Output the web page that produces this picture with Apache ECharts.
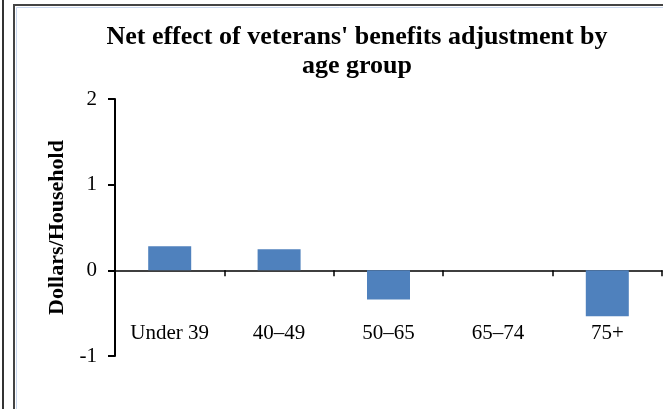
<!DOCTYPE html>
<html>
<head>
<meta charset="utf-8">
<script src="https://cdn.jsdelivr.net/npm/echarts@6/dist/echarts.min.js"></script>
<style>
  html, body { margin: 0; padding: 0; background: #fff; }
  #chart { width: 663px; height: 409px; }
</style>
</head>
<body>
<div id="chart"></div>
<script>
// Net effect per household, by age group
const ageGroups = ['Under 39', '40\u201349', '50\u201365', '65\u201374', '75+'];
const netEffect = [0.28, 0.245, -0.34, 0, -0.535];
const yTicks = [-1, 0, 1, 2];

const serif = '"Liberation Serif", "Times New Roman", serif';
const chart = echarts.init(document.getElementById('chart'));

chart.setOption({
  animation: false,
  backgroundColor: '#ffffff',
  title: {
    text: "Net effect of veterans' benefits adjustment by\nage group",
    left: 352,
    textAlign: 'center',
    top: 18,
    textStyle: {
      fontFamily: serif,
      fontWeight: 'bold',
      fontSize: 26,
      lineHeight: 29,
      color: '#000'
    }
  },
  grid: { left: 115, right: 1, top: 99, bottom: 53, outerBoundsMode: 'none', containLabel: false },
  xAxis: {
    type: 'category',
    data: ageGroups,
    axisLine: { onZero: true, lineStyle: { color: '#000', width: 1.5 } },
    axisTick: { show: true, length: 6, inside: false, lineStyle: { color: '#000', width: 1.5 } },
    // category names sit in the lower band, between the zero line and the -1 tick
    axisLabel: { margin: -33, fontFamily: serif, fontSize: 21, color: '#000' },
    splitLine: { show: false }
  },
  yAxis: {
    type: 'value',
    min: yTicks[0],
    max: yTicks[yTicks.length - 1],
    interval: 1,
    name: 'Dollars/Household',
    nameLocation: 'middle',
    nameGap: 45,
    nameTextStyle: { fontFamily: serif, fontWeight: 'bold', fontSize: 22, color: '#000' },
    axisLine: { show: true, lineStyle: { color: '#000', width: 2 } },
    axisTick: { show: true, length: 7, lineStyle: { color: '#000', width: 2 } },
    axisLabel: { margin: 18, fontFamily: serif, fontSize: 21, color: '#000' },
    splitLine: { show: false }
  },
  series: [{
    type: 'bar',
    data: netEffect,
    barWidth: 43,
    itemStyle: { color: '#4f81bd' }
  }],
  graphic: [
    { type: 'line', shape: { x1: 3, y1: 0, x2: 3, y2: 409 }, style: { stroke: '#333', lineWidth: 2 } },
    { type: 'line', shape: { x1: 14, y1: 5, x2: 663, y2: 5 }, style: { stroke: '#444', lineWidth: 2 } },
    { type: 'line', shape: { x1: 14, y1: 4, x2: 14, y2: 409 }, style: { stroke: '#444', lineWidth: 2 } },
    { type: 'line', shape: { x1: 16.5, y1: 7.5, x2: 663, y2: 7.5 }, style: { stroke: '#c9d7ee', lineWidth: 1 } },
    { type: 'line', shape: { x1: 16.5, y1: 7.5, x2: 16.5, y2: 409 }, style: { stroke: '#c9d7ee', lineWidth: 1 } }
  ]
});
</script>
</body>
</html>
